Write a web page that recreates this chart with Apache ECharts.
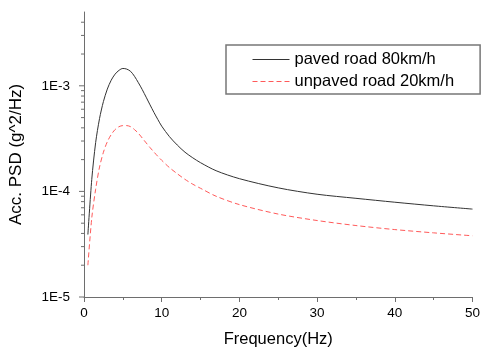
<!DOCTYPE html>
<html>
<head>
<meta charset="utf-8">
<script src="https://cdn.jsdelivr.net/npm/echarts@6/dist/echarts.min.js"></script>
<style>
  html, body { margin: 0; padding: 0; background: #fff; }
  #chart { width: 483px; height: 353px; }
</style>
</head>
<body>
<div id="chart"></div>
<script>
// Frequency samples (Hz)
var freq = [0.5, 1, 1.5, 2, 2.5, 3, 3.5, 4, 4.5, 5,
            5.5, 6, 6.5, 7, 7.5, 8, 8.5, 9, 9.5, 10,
            11, 12, 13, 14, 15, 17, 20, 25, 30, 35,
            40, 45, 50];

// Acceleration PSD, paved road at 80 km/h (g^2/Hz)
var pavedPSD = [3.9e-5, 1.3e-4, 2.9e-4, 4.9e-4, 7.1e-4, 9.3e-4, 1.13e-3, 1.29e-3, 1.40e-3, 1.46e-3,
                1.44e-3, 1.37e-3, 1.23e-3, 1.07e-3, 9.2e-4, 7.8e-4, 6.6e-4, 5.6e-4, 4.8e-4, 4.15e-4,
                3.3e-4, 2.75e-4, 2.35e-4, 2.08e-4, 1.87e-4, 1.57e-4, 1.32e-4, 1.08e-4, 9.4e-5, 8.6e-5,
                7.9e-5, 7.3e-5, 6.8e-5];

// Acceleration PSD, unpaved road at 20 km/h (g^2/Hz)
var unpavedPSD = [2.0e-5, 5.6e-5, 1.05e-4, 1.7e-4, 2.35e-4, 2.95e-4, 3.45e-4, 3.85e-4, 4.1e-4, 4.2e-4,
                  4.2e-4, 4.1e-4, 3.85e-4, 3.55e-4, 3.2e-4, 2.88e-4, 2.6e-4, 2.36e-4, 2.15e-4, 1.97e-4,
                  1.68e-4, 1.47e-4, 1.3e-4, 1.17e-4, 1.07e-4, 9.0e-5, 7.5e-5, 6.1e-5, 5.3e-5, 4.75e-5,
                  4.35e-5, 4.05e-5, 3.8e-5];

var seriesNames = ['paved road 80km/h', 'unpaved road 20km/h'];

// Log-axis tick positions: decades get long ticks, 2..9 multiples short ones
var majorTicks = [1e-5, 1e-4, 1e-3];
var minorTicks = [2e-5, 3e-5, 4e-5, 5e-5, 6e-5, 7e-5, 8e-5, 9e-5,
                  2e-4, 3e-4, 4e-4, 5e-4, 6e-4, 7e-4, 8e-4, 9e-4,
                  2e-3, 3e-3, 4e-3];

var yMin = 1e-5, yMax = 5e-3;
var FONT = 'Liberation Sans, Arial, sans-serif';
var AXIS_COLOR = '#6e6e6e';

function pairs(xs, ys) {
  return xs.map(function (x, i) { return [x, ys[i]]; });
}

function tickSeries(values, len) {
  return {
    type: 'custom',
    silent: true,
    clip: false,
    z: 5,
    data: values.map(function (v) { return [0, v]; }),
    renderItem: function (params, api) {
      var p = api.coord([0, api.value(1)]);
      return {
        type: 'line',
        shape: { x1: p[0] - len, y1: p[1], x2: p[0], y2: p[1] },
        style: { stroke: AXIS_COLOR, lineWidth: 1 }
      };
    }
  };
}

var chart = echarts.init(document.getElementById('chart'), null, { renderer: 'canvas' });

chart.setOption({
  animation: false,
  backgroundColor: '#fff',
  grid: { left: 82, right: 9, top: 12, bottom: 53, containLabel: false },
  legend: {
    data: seriesNames,
    orient: 'vertical',
    left: 226,
    top: 45,
    padding: [6, 26, 4, 26],
    itemGap: 5,
    itemWidth: 37,
    itemHeight: 14,
    borderColor: '#777',
    borderWidth: 1.5,
    itemStyle: { opacity: 0 },
    lineStyle: { width: 1 },
    textStyle: { fontFamily: FONT, fontSize: 16.5, color: '#000' }
  },
  xAxis: {
    type: 'value',
    min: 0,
    max: 50,
    interval: 10,
    name: 'Frequency(Hz)',
    nameLocation: 'middle',
    nameGap: 34,
    nameTextStyle: { fontFamily: FONT, fontSize: 16.5, color: '#000' },
    axisLine: { show: true, lineStyle: { color: AXIS_COLOR, width: 1 } },
    axisTick: { show: true, length: 5, lineStyle: { color: AXIS_COLOR } },
    minorTick: { show: true, splitNumber: 2, length: 3, lineStyle: { color: AXIS_COLOR } },
    splitLine: { show: false },
    axisLabel: { fontFamily: FONT, fontSize: 13.5, color: '#000', margin: 9 }
  },
  yAxis: {
    type: 'log',
    min: yMin,
    max: yMax,
    logBase: 10,
    name: 'Acc. PSD (g^2/Hz)',
    nameLocation: 'middle',
    nameGap: 59,
    nameRotate: 90,
    nameTextStyle: { fontFamily: FONT, fontSize: 17, color: '#000' },
    axisLine: { show: true, lineStyle: { color: AXIS_COLOR, width: 1 } },
    axisTick: { show: false },
    splitLine: { show: false },
    axisLabel: {
      fontFamily: FONT, fontSize: 13.5, color: '#000', margin: 14,
      formatter: function (v) {
        var e = Math.log10(v);
        if (Math.abs(e - Math.round(e)) > 1e-6) return '';
        return '1E' + Math.round(e);
      }
    }
  },
  series: [
    {
      name: seriesNames[0],
      type: 'line',
      data: pairs(freq, pavedPSD),
      smooth: 0.3,
      symbol: 'none',
      lineStyle: { color: '#333', width: 1, type: 'solid' },
      itemStyle: { color: '#333' },
      z: 3
    },
    {
      name: seriesNames[1],
      type: 'line',
      data: pairs(freq, unpavedPSD),
      smooth: 0.3,
      symbol: 'none',
      lineStyle: { color: '#ff5a5a', width: 1, type: [5, 3] },
      itemStyle: { color: '#ff5a5a' },
      z: 3
    },
    tickSeries(majorTicks, 5),
    tickSeries(minorTicks, 3)
  ]
});
</script>
</body>
</html>
